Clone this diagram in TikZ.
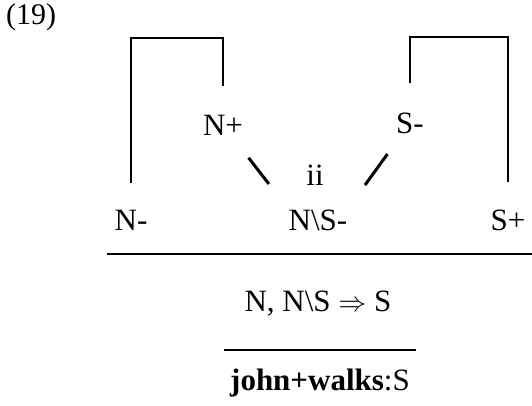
\RequirePackage{fix-cm}
\documentclass[tikz,border=0pt]{standalone}
\usepackage{fontspec}
\setmainfont{Liberation Serif}
\usetikzlibrary{calc}

\begin{document}
\begin{tikzpicture}[
  x=1pt,y=-1pt,
  lab/.style={inner sep=0pt,anchor=base,font=\fontsize{31}{36}\selectfont},
  link/.style={line width=2.4pt},
  axlink/.style={line width=3pt},
  rule/.style={line width=2.6pt}
]
\useasboundingbox (0,0) rectangle (532,405);
\node[lab,anchor=base west,font=\fontsize{30}{34}\selectfont] (num) at (6,24) {(19)};
\node[lab] (nplus) at (223,135) {N+};
\node[lab] (sminus) at (410,133) {S-};
\node[lab] (ii) at (315,185) {ii};
\node[lab] (nminus) at (131,230) {N-};
\node[lab] (nsminus) at (318,230) {N\textbackslash S-};
\node[lab] (splus) at (508,230) {S+};
\node[lab] (seq) at (318,311) {N, N\textbackslash S {\fontsize{28}{32}\selectfont$\Rightarrow$} S};
\node[lab] (term) at (320,390) {\textbf{john+walks}:S};
\coordinate (ltop) at (177,38);
\coordinate (rtop) at (459,37);
\coordinate (ruleAw) at (107,254);
\coordinate (ruleAe) at (532,254);
\coordinate (ruleBw) at (224,350);
\coordinate (ruleBe) at (416,350);
\draw[link] ([yshift=27pt]nminus.north) |- (ltop) -| ([yshift=29pt]nplus.north);
\draw[link] ([yshift=29pt]sminus.north) |- (rtop) -| ([yshift=27pt]splus.north);
\draw[axlink] ($(nplus)!0.39!(nsminus.north west)$) -- ($(nplus)!0.7!(nsminus.north west)$);
\draw[axlink] ($(sminus)!0.36!(nsminus.north east)$) -- ($(sminus)!0.72!(nsminus.north east)$);
\draw[rule] (ruleAw) -- (ruleAe);
\draw[rule] (ruleBw) -- (ruleBe);
\end{tikzpicture}
\end{document}
